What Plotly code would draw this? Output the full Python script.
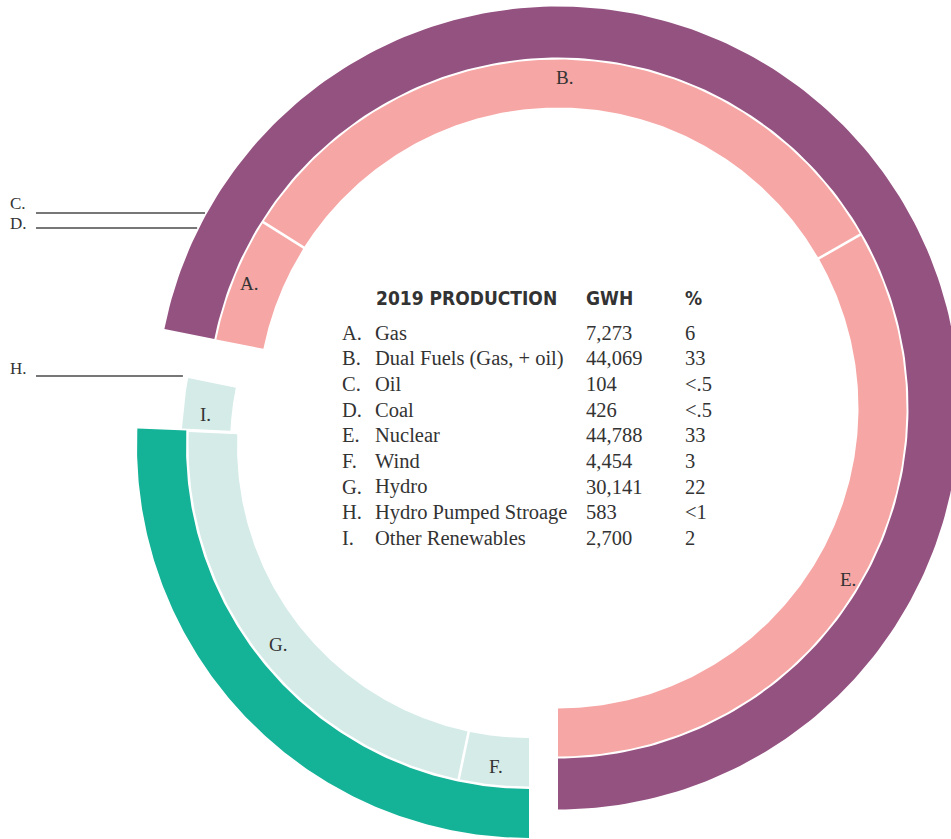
import math
import plotly.graph_objects as go

# ---------------- data ----------------
letters = ["A.", "B.", "C.", "D.", "E.", "F.", "G.", "H.", "I."]
sources = ["Gas", "Dual Fuels (Gas, + oil)", "Oil", "Coal", "Nuclear",
           "Wind", "Hydro", "Hydro Pumped Stroage", "Other Renewables"]
gwh = [7273, 44069, 104, 426, 44788, 4454, 30141, 583, 2700]
pct_labels = ["6", "33", "<.5", "<.5", "33", "3", "22", "<1", "2"]
group = ["fossil", "fossil", "fossil", "fossil", "fossil",
         "renew", "renew", "renew", "renew"]
# clockwise order of slices around the ring
ring_order = ["F.", "G.", "I.", "H.", "C.", "D.", "A.", "B.", "E."]
# slices labelled with a leader line instead of on the ring
leader_labeled = ["C.", "D.", "H."]
# members of each outer band
outer_members = {"fossil": ["A.", "B.", "C.", "D.", "E."], "renew": ["F.", "G."]}

header = ["2019 PRODUCTION", "GWH", "%"]

# ---------------- style / layout ----------------
W, H = 951, 839
START = 180.0                      # degrees clockwise from 12 o'clock
CENTER = {"fossil": (558.0, 408.0), "renew": (529.0, 446.0)}
R_OUTER = {"fossil": (350.5, 401.5), "renew": (343.0, 392.0)}
R_INNER = {"fossil": (300.5, 348.5), "renew": (292.0, 340.5)}
LABEL_R = {"fossil": 335, "renew": 318}
LABEL_DY = 4
SLICE_PULL = {"I.": 7}
GAP = 2.6
OUTER_COLOR = {"fossil": "#945281", "renew": "#14B297"}
INNER_COLOR = {"fossil": "#F6A6A4", "renew": "#D4EBE8"}
TEXT = "#333333"
SERIF = "Liberation Serif, Times New Roman, serif"
NARROW = "DejaVu Sans Condensed, Liberation Sans Narrow, Arial Narrow, sans-serif"
LEADER_Y = {"C.": 213, "D.": 228, "H.": 376}
LEADER_TEXT_Y = {"C.": 203, "D.": 223, "H.": 368}

idx = {l: i for i, l in enumerate(letters)}
deg_per = 360.0 / sum(gwh)
bounds = {}
a = START
for l in ring_order:
    span = gwh[idx[l]] * deg_per
    bounds[l] = (a, a + span)
    a += span


def pt(c, r, ang):
    return c[0] + r * math.sin(math.radians(ang)), c[1] - r * math.cos(math.radians(ang))


def band(c, r0, r1, a0, a1, g0, g1, n=240):
    def d(r, g):
        return math.degrees(math.asin((GAP / 2) / r)) if g else 0.0
    xs, ys = [], []
    s, e = a0 + d(r1, g0), a1 - d(r1, g1)
    for k in range(n + 1):
        x, y = pt(c, r1, s + (e - s) * k / n)
        xs.append(x); ys.append(y)
    s, e = a0 + d(r0, g0), a1 - d(r0, g1)
    for k in range(n + 1):
        x, y = pt(c, r0, e - (e - s) * k / n)
        xs.append(x); ys.append(y)
    xs.append(xs[0]); ys.append(ys[0])
    return xs, ys


fig = go.Figure()

# outer bands
for g, members in outer_members.items():
    a0 = min(bounds[m][0] for m in members)
    a1 = max(bounds[m][1] for m in members)
    xs, ys = band(CENTER[g], R_OUTER[g][0], R_OUTER[g][1], a0, a1, False, False)
    fig.add_trace(go.Scatter(x=xs, y=ys, fill="toself", fillcolor=OUTER_COLOR[g],
                             mode="lines", line=dict(width=0, color=OUTER_COLOR[g]),
                             hoverinfo="skip", showlegend=False))


def separated(p, q):
    return (group[idx[p]] == group[idx[q]]
            and p not in leader_labeled and q not in leader_labeled)


# inner ring: merge slices that are not separated into pieces
pieces = []
for l in ring_order:
    if pieces and group[idx[pieces[-1][-1]]] == group[idx[l]] and not separated(pieces[-1][-1], l):
        pieces[-1].append(l)
    else:
        pieces.append([l])

n_p = len(pieces)
piece_center = {}
for k, pc in enumerate(pieces):
    g = group[idx[pc[0]]]
    a0, a1 = bounds[pc[0]][0], bounds[pc[-1]][1]
    prev_pc, next_pc = pieces[(k - 1) % n_p], pieces[(k + 1) % n_p]
    g0 = separated(prev_pc[-1], pc[0])
    g1 = separated(pc[-1], next_pc[0])
    c = CENTER[g]
    pull = max(SLICE_PULL.get(m, 0) for m in pc)
    if pull:
        c = pt(c, pull, (a0 + a1) / 2)
    for m in pc:
        piece_center[m] = c
    xs, ys = band(c, R_INNER[g][0], R_INNER[g][1], a0, a1, g0, g1)
    fig.add_trace(go.Scatter(x=xs, y=ys, fill="toself", fillcolor=INNER_COLOR[g],
                             mode="lines", line=dict(width=0, color=INNER_COLOR[g]),
                             hoverinfo="skip", showlegend=False))

annotations = []
# ring labels
for l in ring_order:
    if l in leader_labeled:
        continue
    g = group[idx[l]]
    a0, a1 = bounds[l]
    x, y = pt(piece_center[l], LABEL_R[g], (a0 + a1) / 2)
    annotations.append(dict(x=x, y=y + LABEL_DY, text=l, showarrow=False, xanchor="center",
                            yanchor="middle", font=dict(family=SERIF, size=19, color=TEXT)))

# leader labels
shapes = []
for l in leader_labeled:
    g = group[idx[l]]
    y = LEADER_Y[l]
    if l == "H.":
        a0, a1 = bounds[l]
        xe, _ = pt(piece_center[l], 345, (a0 + a1) / 2)
    else:
        c = CENTER[g]
        xe = c[0] - math.sqrt(R_OUTER[g][1] ** 2 - (y - c[1]) ** 2) - 2
    shapes.append(dict(type="line", xref="x", yref="y", x0=36, x1=xe, y0=y, y1=y,
                       line=dict(color="#4a4a4a", width=1.3)))
    annotations.append(dict(x=8, y=LEADER_TEXT_Y[l], text=l, showarrow=False, xanchor="left",
                            yanchor="middle", font=dict(family=SERIF, size=17, color=TEXT)))

# table
COL_X = [374, 584, 683]
HEADER_Y = 298
for t, x in zip(header, COL_X):
    annotations.append(dict(x=x, y=HEADER_Y, text="<b>%s</b>" % t, showarrow=False,
                            xanchor="left", yanchor="middle",
                            font=dict(family=NARROW, size=19, color=TEXT)))
ROW_Y0, ROW_DY = 332.5, 25.7
for i, l in enumerate(letters):
    y = ROW_Y0 + i * ROW_DY
    for t, x in [(l, 340), (sources[i], 373), (f"{gwh[i]:,}", 584), (pct_labels[i], 683)]:
        annotations.append(dict(x=x, y=y, text=t, showarrow=False, xanchor="left",
                                yanchor="middle",
                                font=dict(family=SERIF, size=20.5, color=TEXT)))

fig.update_layout(
    width=W, height=H, margin=dict(l=0, r=0, t=0, b=0),
    paper_bgcolor="white", plot_bgcolor="white",
    xaxis=dict(range=[0, W], visible=False, fixedrange=True),
    yaxis=dict(range=[H, 0], visible=False, fixedrange=True),
    annotations=annotations, shapes=shapes, showlegend=False,
)
fig.write_html("out.html", config={"displayModeBar": False},
               post_script="document.body.style.margin='0px';")
